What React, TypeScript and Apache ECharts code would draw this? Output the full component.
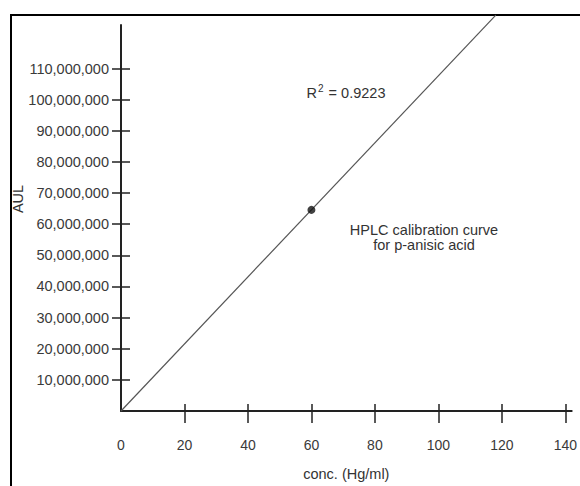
import React, { useEffect, useRef } from "react";
import * as echarts from "echarts";

const xTickValues = [20, 40, 60, 80, 100, 120, 140];
const xLabelValues = [0, 20, 40, 60, 80, 100, 120, 140];
const yTickValues = [10e6, 20e6, 30e6, 40e6, 50e6, 60e6, 70e6, 80e6, 90e6, 100e6, 110e6];
const measuredPoints = [[60, 64.6e6]];
const trendLine = [
  [0, 0],
  [118.1, 127.2e6],
];
const xName = "conc. (Hg/ml)";
const yName = "AUL";
const r2Text = "0.9223";
const noteLines = ["HPLC calibration curve", "for p-anisic acid"];

const FONT = "'Liberation Sans', Arial, Helvetica, sans-serif";
const fmt = (v: number) => v.toLocaleString("en-US");

export default function App() {
  const ref = useRef<HTMLDivElement>(null);
  useEffect(() => {
    if (!ref.current) return;
    document.body.style.margin = "0";
    document.documentElement.style.overflow = "hidden";
    document.body.style.overflow = "hidden";
    const chart = echarts.init(ref.current, null, { renderer: "svg" });
    const xMin = 0;
    const xMax = 142;
    const yMin = 0;
    const yMax = 124e6;
    chart.setOption({
      animation: false,
      backgroundColor: "#ffffff",
      grid: { left: 121, right: 0, top: 25, bottom: 71.5 },
      xAxis: [
        {
          type: "value",
          position: "bottom",
          min: xMin,
          max: xMax,
          interval: 20,
          name: xName,
          nameLocation: "middle",
          nameGap: 55,
          nameTextStyle: { fontFamily: FONT, fontSize: 14.5, color: "#333" },
          axisLine: { show: true, onZero: false, lineStyle: { color: "#222", width: 2 } },
          axisTick: {
            show: true,
            length: 12,
            customValues: xTickValues,
            lineStyle: { color: "#222", width: 1.5 },
          },
          axisLabel: {
            show: true,
            margin: 27,
            customValues: xLabelValues,
            fontFamily: FONT,
            fontSize: 14,
            color: "#3a3a3a",
          },
          splitLine: { show: false },
        },
        {
          type: "value",
          position: "bottom",
          min: xMin,
          max: xMax,
          interval: 20,
          axisLine: { show: false, onZero: false },
          axisTick: {
            show: true,
            inside: true,
            length: 7,
            customValues: xTickValues,
            lineStyle: { color: "#222", width: 1.5 },
          },
          axisLabel: { show: false },
          splitLine: { show: false },
        },
      ],
      yAxis: [
        {
          type: "value",
          position: "left",
          min: yMin,
          max: yMax,
          interval: 10e6,
          axisLine: { show: true, onZero: false, lineStyle: { color: "#222", width: 2 } },
          axisTick: {
            show: true,
            length: 9,
            customValues: yTickValues,
            lineStyle: { color: "#222", width: 1.5 },
          },
          axisLabel: {
            show: true,
            margin: 12,
            customValues: yTickValues,
            formatter: (v: number) => fmt(v),
            fontFamily: FONT,
            fontSize: 14.5,
            color: "#3a3a3a",
          },
          splitLine: { show: false },
        },
        {
          type: "value",
          position: "left",
          min: yMin,
          max: yMax,
          interval: 10e6,
          axisLine: { show: false, onZero: false },
          axisTick: {
            show: true,
            inside: true,
            length: 9,
            customValues: yTickValues,
            lineStyle: { color: "#222", width: 1.5 },
          },
          axisLabel: { show: false },
          splitLine: { show: false },
        },
      ],
      series: [
        {
          type: "line",
          xAxisIndex: 0,
          yAxisIndex: 0,
          data: trendLine,
          symbol: "none",
          clip: false,
          lineStyle: { color: "#555", width: 1.2 },
          z: 2,
        },
        {
          type: "scatter",
          xAxisIndex: 0,
          yAxisIndex: 0,
          data: measuredPoints,
          symbol: "circle",
          symbolSize: 8,
          itemStyle: { color: "#111" },
          z: 3,
        },
      ],
      graphic: [
        {
          type: "polyline",
          shape: { points: [[11, 486], [11, 15], [580, 15]] },
          style: { fill: "none", stroke: "#000", lineWidth: 2 },
          silent: true,
        },
        {
          type: "text",
          x: 18,
          y: 199,
          rotation: Math.PI / 2,
          style: {
            text: yName,
            fontFamily: FONT,
            fontSize: 14.5,
            fill: "#333",
            align: "center",
            verticalAlign: "middle",
          },
        },
        {
          type: "text",
          x: 346,
          y: 93,
          style: {
            text: "R{sup|2} = " + r2Text,
            fontFamily: FONT,
            fontSize: 14.5,
            fill: "#333",
            align: "center",
            verticalAlign: "middle",
            rich: {
              sup: {
                fontFamily: FONT,
                fontSize: 10,
                fill: "#333",
                verticalAlign: "top",
                padding: [0, 1, 9, 1],
              },
            },
          },
        },
        {
          type: "text",
          x: 424,
          y: 237,
          style: {
            text: noteLines.join("\n"),
            fontFamily: FONT,
            fontSize: 14.5,
            lineHeight: 15,
            fill: "#333",
            align: "center",
            verticalAlign: "middle",
          },
        },
      ],
    });
    return () => chart.dispose();
  }, []);
  return (
    <div
      ref={ref}
      style={{ position: "absolute", left: 0, top: 0, width: 580, height: 486, overflow: "hidden" }}
    />
  );
}
